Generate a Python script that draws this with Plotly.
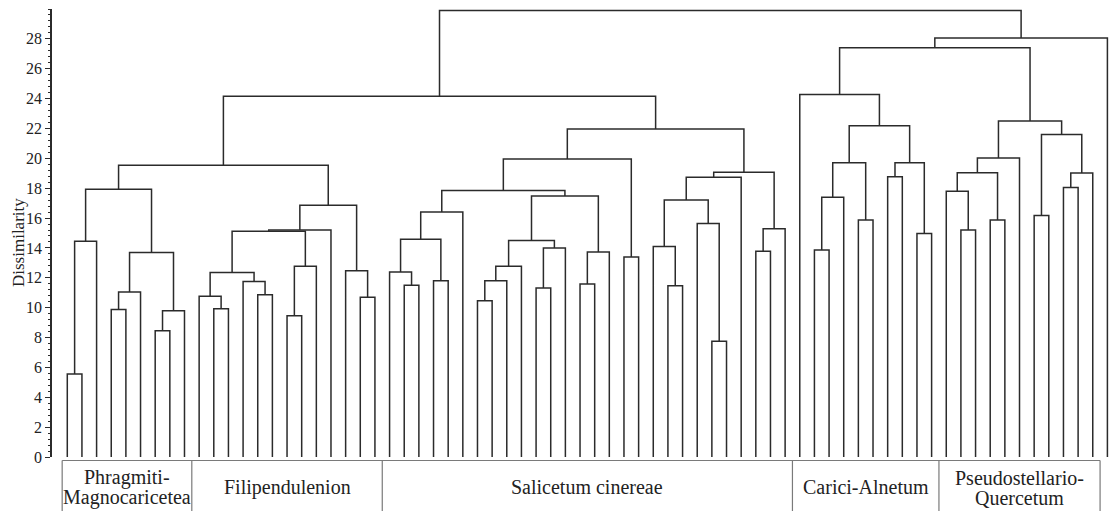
import plotly.graph_objects as go

# ---------------- data ----------------
n_leaves = 72

node_names = [
    "p1", "p2", "p3", "p4", "p5", "p6", "p7", "p8",
    "f1", "f2", "f3", "f4", "f5", "f6", "f7", "f8", "f9", "f10", "f11", "f12",
    "pf",
    "s1", "s2", "s3", "s4", "s5", "s6", "s7", "s8", "s9", "s10", "s11", "s12",
    "s13", "s14", "s15", "s16", "s17", "s18", "s19", "s20", "s21", "s22", "s23",
    "s24", "s25", "s26", "s27",
    "L",
    "c1", "c2", "c3", "c4", "c5", "c6", "c7", "c8", "c9",
    "q1", "q2", "q3", "q4", "q5", "q6", "q7", "q8", "q9", "q10",
    "r1", "r2", "root",
]
left_child = [
    0, "p1", 3, "p3", 6, "p5", "p4", "p2",
    10, 9, 13, 12, "f2", 15, "f6", "f5", "f8", 20, 19, "f9",
    "p8",
    23, 22, 25, "s2", "s4", 28, "s6", "s7", 32, "s9", "s8", 35,
    "s12", "s11", "s5", 38, "s15", 41, 40, 44, 43, "s19", "s22",
    47, "s24", "s23", "s17",
    "pf",
    51, "c1", 54, "c2", 56, 58, "c5", "c4", 50,
    61, 60, 63, "q2", "q4", 66, 68, "q7", "q6", "q5",
    "c9", "r1", "L",
]
right_child = [
    1, 2, 4, 5, 7, 8, "p6", "p7",
    11, "f1", 14, "f3", "f4", 16, 17, "f7", 18, 21, "f10", "f11",
    "f12",
    24, "s1", 26, "s3", 27, 29, 30, 31, 33, 34, "s10", 36,
    37, "s13", "s14", 39, "s16", 42, "s18", 45, "s20", "s21", 46,
    48, 49, "s25", "s26",
    "s27",
    52, 53, 55, "c3", 57, 59, "c6", "c7", "c8",
    62, "q1", 64, "q3", 65, 67, 69, 70, "q8", "q9",
    "q10", 71, "r2",
]
merge_height = [
    5.56, 14.45, 9.88, 11.05, 8.46, 9.79, 13.70, 17.93,
    9.93, 10.76, 10.87, 11.76, 12.36, 9.46, 12.77, 15.12, 15.20, 10.69, 12.48, 16.85,
    19.53,
    11.50, 12.39, 11.81, 14.58, 16.41, 10.47, 11.81, 12.77, 11.32, 14.00, 14.49, 11.58,
    13.73, 17.48, 17.84, 13.40, 19.96, 11.47, 14.09, 7.75, 15.63, 17.21, 18.73,
    13.77, 15.29, 19.06, 21.97,
    24.15,
    13.86, 17.39, 15.87, 19.71, 18.77, 14.96, 19.71, 22.19, 24.27,
    15.20, 17.79, 15.87, 19.04, 20.03, 16.18, 18.04, 19.02, 21.59, 22.50,
    27.40, 28.06, 29.90,
]

group_labels = [
    ["Phragmiti-", "Magnocaricetea"],
    ["Filipendulenion"],
    ["Salicetum cinereae"],
    ["Carici-Alnetum"],
    ["Pseudostellario-", "Quercetum"],
]
group_edges = [-0.35, 8.5, 21.5, 49.5, 59.5, 70.5]

y_ticks = list(range(0, 29, 2))
y_title = "Dissimilarity"

# ---------------- build dendrogram path ----------------
pos = {}
hgt = {}
for i in range(n_leaves):
    pos[i] = float(i)
    hgt[i] = 0.0

xs, ys = [], []
for name, a, b, h in zip(node_names, left_child, right_child, merge_height):
    xa, xb = pos[a], pos[b]
    xs += [xa, xa, xb, xb, None]
    ys += [hgt[a], h, h, hgt[b], None]
    pos[name] = (xa + xb) / 2.0
    hgt[name] = h

line_color = "#2b2b2b"
serif = "Times New Roman, Liberation Serif, DejaVu Serif, serif"

fig = go.Figure()
fig.add_trace(go.Scatter(
    x=xs, y=ys, mode="lines",
    line=dict(color=line_color, width=1.5),
    hoverinfo="skip", showlegend=False,
))

# ---------------- group boxes & labels ----------------
H = 448.0
box_top = -3.5 / H
box_bot = -70 / H
shapes = []
shapes.append(dict(type="line", xref="x", yref="paper",
                   x0=group_edges[0], x1=group_edges[-1], y0=box_top, y1=box_top,
                   line=dict(color="#7a7a7a", width=1.2)))
for e in group_edges:
    shapes.append(dict(type="line", xref="x", yref="paper",
                       x0=e, x1=e, y0=box_top, y1=box_bot,
                       line=dict(color="#7a7a7a", width=1.2)))

annotations = []
for k, lines in enumerate(group_labels):
    xc = (group_edges[k] + group_edges[k + 1]) / 2.0
    if len(lines) == 1:
        ypx = [30]
    else:
        ypx = [20.5, 40.5]
    for txt, yp in zip(lines, ypx):
        annotations.append(dict(
            x=xc, xref="x", y=-yp / H, yref="paper",
            text=txt, showarrow=False, xanchor="center", yanchor="middle",
            font=dict(family=serif, size=20, color="#222222"),
        ))

annotations.append(dict(
    x=-34 / 1058.0, xref="paper", y=(457 - 243) / H, yref="paper",
    text=y_title, textangle=-90, showarrow=False,
    xanchor="center", yanchor="middle",
    font=dict(family=serif, size=17, color="#222222"),
))

fig.update_layout(
    width=1110, height=511,
    margin=dict(l=52, r=0, t=9, b=54),
    paper_bgcolor="white", plot_bgcolor="white",
    font=dict(family=serif),
    shapes=shapes, annotations=annotations,
    xaxis=dict(range=[-1.044, 71.177], showgrid=False, zeroline=False,
               showline=False, showticklabels=False, ticks=""),
    yaxis=dict(range=[0, 30], showgrid=False, zeroline=False,
               showline=True, linecolor="#2b2b2b", linewidth=1.8,
               tickvals=y_ticks, ticks="outside", ticklen=5, tickwidth=1.2,
               tickcolor="#2b2b2b",
               tickfont=dict(family=serif, size=16, color="#222222"),
               minor=dict(dtick=0.4, ticks="outside", ticklen=2.5,
                          tickwidth=1, tickcolor="#2b2b2b", showgrid=False)),
)

fig.write_html("out.html")
